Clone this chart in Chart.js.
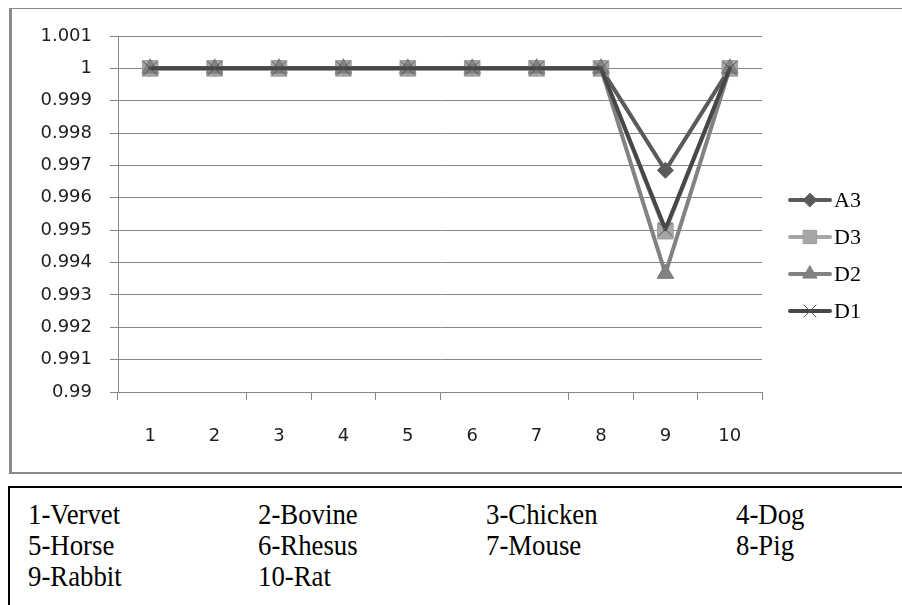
<!DOCTYPE html>
<html>
<head>
<meta charset="utf-8">
<title>Series A3, D3, D2, D1 by species</title>
<script src="https://cdn.jsdelivr.net/npm/chart.js@4.4.0/dist/chart.umd.min.js"></script>
<style>
  html, body { margin: 0; padding: 0; background: #fff; }
  body { position: relative; width: 902px; height: 605px; overflow: hidden; }
  #frame {
    position: absolute; left: 9px; top: 8px; width: 1000px; height: 466px;
    box-sizing: border-box;
    border-left: 3px solid #8a8a8a; border-top: 1px solid #8a8a8a; border-bottom: 2px solid #8a8a8a;
  }
  #wrap { position: absolute; left: 0; top: 0; width: 902px; height: 480px; }
  #keyBox {
    position: absolute; left: 8px; top: 486px; width: 1000px; height: 200px;
    box-sizing: border-box; border: 2px solid #000;
  }
  .cell {
    position: absolute; white-space: nowrap; color: #000;
    font-family: "Liberation Serif", "Times New Roman", serif;
    font-size: 26px; line-height: 31px;
    transform: scale(1.03, 1.12); transform-origin: 0 24px;
  }
</style>
</head>
<body>
<div id="frame"></div>
<div id="wrap"><canvas id="chart" width="902" height="480"></canvas></div>
<div id="keyBox"></div>
<div id="keyCells"></div>
<script>
// Categories on the x axis
const categories = ['1', '2', '3', '4', '5', '6', '7', '8', '9', '10'];

// Series values
const seriesA3 = [1, 1, 1, 1, 1, 1, 1, 1, 0.99685, 1];
const seriesD3 = [1, 1, 1, 1, 1, 1, 1, 1, 0.99497, 1];
const seriesD2 = [1, 1, 1, 1, 1, 1, 1, 1, 0.99366, 1];
const seriesD1 = [1, 1, 1, 1, 1, 1, 1, 1, 0.99503, 1];
const seriesNames = ['A3', 'D3', 'D2', 'D1'];

// Y tick labels, bottom to top
const yTickLabels = ['0.99', '0.991', '0.992', '0.993', '0.994', '0.995',
                     '0.996', '0.997', '0.998', '0.999', '1', '1.001'];

// Species key shown under the chart
const speciesKey = ['1-Vervet', '2-Bovine', '3-Chicken', '4-Dog',
                    '5-Horse', '6-Rhesus', '7-Mouse', '8-Pig',
                    '9-Rabbit', '10-Rat'];

// Species key layout
const keyCols = [28, 258, 486, 736];
const keyRows = [500, 531, 562];
const keyCells = document.getElementById('keyCells');
speciesKey.forEach((txt, i) => {
  const el = document.createElement('div');
  el.className = 'cell';
  el.textContent = txt;
  el.style.left = keyCols[i % 4] + 'px';
  el.style.top = keyRows[Math.floor(i / 4)] + 'px';
  keyCells.appendChild(el);
});

const gridGray = '#878787';
const styles = [
  { color: '#5a5a5a', point: 'rectRot',  r: 8,  w: 4, pb: '#5a5a5a' },
  { color: '#a6a6a6', point: 'rect',     r: 11, w: 4, pb: '#9c9c9c' },
  { color: '#828282', point: 'triangle', r: 9.5, w: 4, pb: '#7a7a7a' },
  { color: '#474747', point: 'crossRot', r: 10, w: 4, pb: '#555555' }
];
const values = [seriesA3, seriesD3, seriesD2, seriesD1];

const datasets = values.map((data, i) => ({
  label: seriesNames[i],
  data: data,
  borderColor: styles[i].color,
  backgroundColor: styles[i].color,
  borderWidth: styles[i].w,
  borderJoinStyle: 'round',
  borderCapStyle: 'round',
  tension: 0,
  fill: false,
  pointStyle: styles[i].point,
  pointRadius: styles[i].r,
  pointHoverRadius: styles[i].r,
  pointBackgroundColor: styles[i].color,
  pointBorderColor: styles[i].pb,
  pointBorderWidth: 1,
  order: values.length - i
}));

// Series key drawn to the right of the plot
const seriesKey = {
  id: 'seriesKey',
  afterDraw(chart, args, opts) {
    const ctx = chart.ctx;
    chart.data.datasets.forEach((ds, i) => {
      const y = opts.top + i * opts.gap;
      const xm = (opts.x0 + opts.x1) / 2;
      ctx.save();
      ctx.strokeStyle = ds.borderColor;
      ctx.lineWidth = ds.borderWidth;
      ctx.lineCap = 'round';
      ctx.beginPath();
      ctx.moveTo(opts.x0, y);
      ctx.lineTo(opts.x1, y);
      ctx.stroke();
      ctx.fillStyle = ds.pointBackgroundColor;
      ctx.strokeStyle = ds.pointBorderColor;
      ctx.lineWidth = ds.pointBorderWidth;
      Chart.helpers.drawPoint(ctx, {
        pointStyle: ds.pointStyle,
        radius: ds.pointRadius * opts.markerScale,
        rotation: 0,
        borderWidth: ds.pointBorderWidth
      }, xm, y);
      ctx.fillStyle = '#000';
      ctx.font = opts.font;
      ctx.textAlign = 'left';
      ctx.textBaseline = 'middle';
      ctx.fillText(ds.label, opts.x1 + 4, y + 1);
      ctx.restore();
    });
  }
};

const tickFont = { family: 'DejaVu Sans', size: 18 };

new Chart(document.getElementById('chart'), {
  type: 'line',
  data: { labels: categories, datasets: datasets },
  plugins: [seriesKey],
  options: {
    responsive: false,
    animation: false,
    events: [],
    layout: { padding: { left: 0, top: 36, right: 140, bottom: 0 } },
    plugins: {
      legend: { display: false },
      tooltip: { enabled: false },
      seriesKey: { x0: 790, x1: 830, top: 200, gap: 37, markerScale: 0.85,
                   font: '22px "Liberation Serif", serif' }
    },
    scales: {
      x: {
        offset: true,
        afterFit(s) { s.height = 480 - 392; },
        grid: {
          offset: true,
          drawOnChartArea: false,
          drawTicks: true,
          tickLength: 8,
          color: gridGray,
          tickColor: (c) => (c.index === 1 || c.index === 6) ? 'rgba(0,0,0,0)' : gridGray,
          lineWidth: 1
        },
        border: { display: true, color: gridGray, width: 1 },
        ticks: { padding: 26, color: '#1e1e1e', font: tickFont, maxRotation: 0, autoSkip: false }
      },
      y: {
        min: 0.99,
        max: 1.001,
        afterFit(s) { s.width = 118; },
        grid: { color: gridGray, lineWidth: 1, tickLength: 8, drawTicks: true },
        border: { display: true, color: gridGray, width: 1 },
        ticks: {
          stepSize: 0.001,
          padding: 18,
          color: '#1e1e1e',
          font: tickFont,
          callback: (v, i) => yTickLabels[i]
        }
      }
    }
  }
});
</script>
</body>
</html>
